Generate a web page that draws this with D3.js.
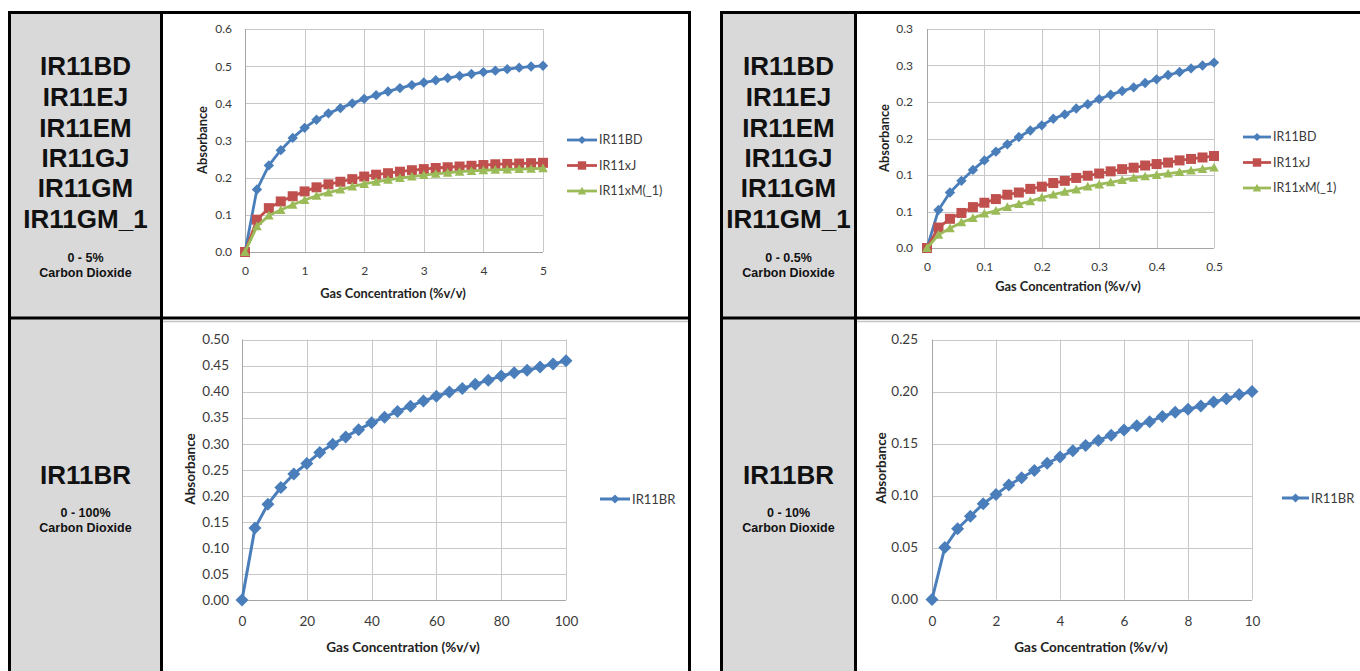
<!DOCTYPE html>
<html><head><meta charset="utf-8">
<script src="https://cdn.jsdelivr.net/npm/d3@7/dist/d3.min.js"></script>
<style>body{margin:0;background:#fff;} svg{display:block;}</style>
</head><body><svg id="c" width="1360" height="671"></svg>
<script>
// ---------- DATA ----------
const conc5  = [0,0.2,0.4,0.6,0.8,1.0,1.2,1.4,1.6,1.8,2.0,2.2,2.4,2.6,2.8,3.0,3.2,3.4,3.6,3.8,4.0,4.2,4.4,4.6,4.8,5.0];
const bd5    = [0,0.168,0.233,0.274,0.307,0.334,0.356,0.373,0.387,0.400,0.412,0.422,0.432,0.441,0.449,0.456,0.462,0.468,0.474,0.479,0.484,0.488,0.492,0.496,0.499,0.501];
const xj5    = [0,0.087,0.118,0.136,0.150,0.163,0.174,0.182,0.189,0.196,0.203,0.208,0.212,0.216,0.220,0.223,0.226,0.228,0.230,0.232,0.234,0.236,0.237,0.238,0.239,0.240];
const xm5    = [0,0.069,0.098,0.113,0.127,0.140,0.151,0.160,0.168,0.176,0.183,0.189,0.194,0.199,0.203,0.207,0.210,0.213,0.216,0.218,0.220,0.221,0.222,0.223,0.224,0.225];

const conc05 = [0,0.02,0.04,0.06,0.08,0.10,0.12,0.14,0.16,0.18,0.20,0.22,0.24,0.26,0.28,0.30,0.32,0.34,0.36,0.38,0.40,0.42,0.44,0.46,0.48,0.50];
const bd05   = [0,0.052,0.076,0.092,0.107,0.120,0.132,0.142,0.152,0.161,0.168,0.177,0.183,0.191,0.197,0.204,0.210,0.215,0.220,0.226,0.231,0.237,0.241,0.246,0.250,0.254];
const xj05   = [0,0.028,0.040,0.048,0.056,0.062,0.067,0.073,0.076,0.081,0.084,0.089,0.092,0.096,0.099,0.102,0.105,0.108,0.110,0.113,0.115,0.117,0.120,0.122,0.124,0.126];
const xm05   = [0,0.018,0.027,0.035,0.041,0.047,0.051,0.056,0.060,0.064,0.069,0.073,0.077,0.080,0.084,0.087,0.090,0.093,0.096,0.098,0.100,0.102,0.104,0.106,0.108,0.110];

const conc100 = [0,4,8,12,16,20,24,28,32,36,40,44,48,52,56,60,64,68,72,76,80,84,88,92,96,100];
const br100   = [0,0.138,0.184,0.216,0.242,0.262,0.283,0.299,0.313,0.327,0.340,0.351,0.362,0.372,0.382,0.391,0.399,0.406,0.414,0.422,0.430,0.436,0.441,0.447,0.453,0.459];

const conc10 = [0,0.4,0.8,1.2,1.6,2.0,2.4,2.8,3.2,3.6,4.0,4.4,4.8,5.2,5.6,6.0,6.4,6.8,7.2,7.6,8.0,8.4,8.8,9.2,9.6,10.0];
const br10   = [0,0.050,0.068,0.080,0.092,0.101,0.110,0.117,0.124,0.131,0.137,0.143,0.148,0.153,0.158,0.163,0.167,0.171,0.176,0.180,0.183,0.186,0.190,0.193,0.197,0.200];

const xTicks5   = [0,1,2,3,4,5];
const yTicks5   = [0,0.1,0.2,0.3,0.4,0.5,0.6];
const yLabels5  = ["0.0","0.1","0.2","0.3","0.4","0.5","0.6"];
const xTicks05  = [0,0.1,0.2,0.3,0.4,0.5];
const xLabels05 = ["0","0.1","0.2","0.3","0.4","0.5"];
const yTicks05  = [0,0.05,0.1,0.15,0.2,0.25,0.3];
const yLabels05 = ["0.0","0.1","0.1","0.2","0.2","0.3","0.3"];
const xTicks100 = [0,20,40,60,80,100];
const yTicks100 = [0,0.05,0.1,0.15,0.2,0.25,0.3,0.35,0.4,0.45,0.5];
const yLabels100= ["0.00","0.05","0.10","0.15","0.20","0.25","0.30","0.35","0.40","0.45","0.50"];
const xTicks10  = [0,2,4,6,8,10];
const yTicks10  = [0,0.05,0.1,0.15,0.2,0.25];
const yLabels10 = ["0.00","0.05","0.10","0.15","0.20","0.25"];

const seriesNames3 = ["IR11BD","IR11xJ","IR11xM(_1)"];
const seriesNameBR = "IR11BR";
const labelsTop = ["IR11BD","IR11EJ","IR11EM","IR11GJ","IR11GM","IR11GM_1"];
const rangeTL = "0 - 5%", rangeTR = "0 - 0.5%", rangeBL = "0 - 100%", rangeBR = "0 - 10%";
const gasName = "Carbon Dioxide";
const xTitle = "Gas Concentration (%v/v)", yTitle = "Absorbance";

// ---------- STYLE ----------
const BLUE = "#4a7ebb", RED = "#c0504d", GREEN = "#9bbb59";
const svg = d3.select("#c");
svg.append("rect").attr("width",1360).attr("height",671).attr("fill","#fff");

// ---------- TABLE ----------
const gray = "#d9d9d9";
svg.append("rect").attr("x",9.5).attr("y",12.5).attr("width",152).attr("height",680).attr("fill",gray);
svg.append("rect").attr("x",721.5).attr("y",12.5).attr("width",134).attr("height",680).attr("fill",gray);
[[163,688],[857,1360]].forEach(([a,b])=>{
  svg.append("line").attr("x1",a).attr("x2",b).attr("y1",321.5).attr("y2",321.5).attr("stroke","#c4c4c4").attr("stroke-width",1.5);
});
const bl = (x1,y1,x2,y2,w=3)=>svg.append("line").attr("x1",x1).attr("y1",y1).attr("x2",x2).attr("y2",y2).attr("stroke","#000").attr("stroke-width",w);
bl(8,12.5,691,12.5); bl(9.5,11,9.5,680); bl(689.5,11,689.5,680); bl(161.5,11,161.5,680); bl(8,318,691,318);
bl(720,12.5,1365,12.5); bl(721.5,11,721.5,680); bl(855.5,11,855.5,680); bl(720,318,1365,318);

function labelCell(cx, lines, lineYs, range, rangeY){
  const g = svg.append("g").attr("font-family","'Liberation Sans', Arial, sans-serif").attr("font-weight","bold").attr("text-anchor","middle").attr("fill","#111");
  lines.forEach((t,i)=>g.append("text").attr("x",cx).attr("y",lineYs[i]+9.3).attr("font-size",26).text(t));
  g.append("text").attr("x",cx).attr("y",rangeY+4.3).attr("font-size",12.5).text(range);
  g.append("text").attr("x",cx).attr("y",rangeY+15+4.3).attr("font-size",12.5).text(gasName);
}
const topYs = [66,97,128,158,188,219];
labelCell(85.5, labelsTop, topYs, rangeTL, 258);
labelCell(788.5, labelsTop, topYs, rangeTR, 258);
labelCell(85.5, ["IR11BR"], [475], rangeBL, 513);
labelCell(788.5, ["IR11BR"], [475], rangeBR, 513);

// ---------- CHARTS ----------
function marker(sel, shape, r, color){
  if(shape==="diamond"){
    sel.append("path").attr("d",`M0,${-r}L${r},0L0,${r}L${-r},0Z`).attr("fill",color);
  } else if(shape==="square"){
    sel.append("rect").attr("x",-r).attr("y",-r).attr("width",2*r).attr("height",2*r).attr("fill",color);
  } else {
    sel.append("path").attr("d",`M0,${-r*1.05}L${r*1.05},${r*0.85}L${-r*1.05},${r*0.85}Z`).attr("fill",color);
  }
}

function chart(c){
  const g = svg.append("g");
  const x = d3.scaleLinear().domain(c.xDomain).range([c.left,c.right]);
  const y = d3.scaleLinear().domain(c.yDomain).range([c.bottom,c.top]);
  const snap = v => Math.round(v)+0.5;
  g.append("g").selectAll("line").data(c.yTicks).join("line")
    .attr("x1",c.left).attr("x2",c.right).attr("y1",d=>snap(y(d))).attr("y2",d=>snap(y(d)))
    .attr("stroke",(d,i)=>i===0?"#a6a6a6":"#c8c8c8").attr("stroke-width",1);
  g.append("g").selectAll("line").data(c.xTicks).join("line")
    .attr("y1",c.top).attr("y2",c.bottom).attr("x1",d=>snap(x(d))).attr("x2",d=>snap(x(d)))
    .attr("stroke",(d,i)=>i===0?"#a6a6a6":"#c8c8c8").attr("stroke-width",1);
  const ya = d3.axisLeft(y).tickValues(c.yTicks).tickSize(0).tickPadding(c.yPad).tickFormat((d,i)=>c.yLabels[i]);
  const yg = g.append("g").attr("transform",`translate(${c.left},0)`).call(ya);
  yg.select(".domain").remove();
  yg.selectAll("text").attr("font-family","Lato, 'Open Sans', sans-serif").attr("font-size",c.tickFs).attr("fill","#3a3a3a");
  const xa = d3.axisBottom(x).tickValues(c.xTicks).tickSize(0).tickFormat((d,i)=>c.xLabels[i]);
  const xg = g.append("g").attr("transform",`translate(0,${c.bottom})`).call(xa);
  xg.select(".domain").remove();
  xg.selectAll("text").attr("font-family","Lato, 'Open Sans', sans-serif").attr("font-size",c.tickFs).attr("fill","#3a3a3a")
    .attr("y",c.xLabelBase - c.bottom).attr("dy",null);
  g.append("text").attr("transform",`translate(${c.yTitleX},${c.yTitleY}) rotate(-90)`).attr("text-anchor","middle").attr("dy","0.35em")
    .attr("font-family","Lato, sans-serif").attr("font-weight","bold").attr("font-size",c.titleFs).attr("fill","#222").text(yTitle);
  g.append("text").attr("x",c.xTitleX).attr("y",c.xTitleY).attr("text-anchor","middle").attr("dy","0.35em")
    .attr("font-family","Lato, sans-serif").attr("font-weight","bold").attr("font-size",c.titleFs).attr("fill","#222").text(xTitle);
  c.series.forEach(s=>{
    const pts = c.xs.map((v,i)=>[v,s.values[i]]);
    g.append("path").datum(pts).attr("fill","none").attr("stroke",s.color).attr("stroke-width",c.lw).attr("stroke-linejoin","round")
      .attr("d",d3.line().x(d=>x(d[0])).y(d=>y(d[1])));
    g.append("g").selectAll("g").data(pts).join("g").attr("transform",d=>`translate(${x(d[0])},${y(d[1])})`)
      .each(function(){ marker(d3.select(this), s.shape, s.r, s.color); });
  });
  c.series.forEach((s,i)=>{
    const ly = c.legY[i];
    g.append("line").attr("x1",c.legX).attr("x2",c.legX+c.legLen).attr("y1",ly).attr("y2",ly).attr("stroke",s.color).attr("stroke-width",c.lw);
    const mg = g.append("g").attr("transform",`translate(${c.legX+c.legLen/2},${ly})`);
    marker(mg, s.shape, s.lr, s.color);
    g.append("text").attr("x",c.legX+c.legLen+2).attr("y",ly).attr("dy","0.35em").attr("font-family","Lato, sans-serif")
      .attr("font-size",c.legFs).attr("fill","#3a3a3a").text(s.name);
  });
}

chart({xDomain:[0,5],yDomain:[0,0.6],left:245,right:543,top:29,bottom:252,
  xTicks:xTicks5,xLabels:xTicks5.map(String),yTicks:yTicks5,yLabels:yLabels5,yPad:13,xLabelBase:275,tickFs:12,
  yTitleX:203,yTitleY:140,xTitleX:393,xTitleY:294,titleFs:12.8,lw:2.8,xs:conc5,
  series:[{name:seriesNames3[0],values:bd5,color:BLUE,shape:"diamond",r:5.2,lr:4},
          {name:seriesNames3[1],values:xj5,color:RED,shape:"square",r:5,lr:4.2},
          {name:seriesNames3[2],values:xm5,color:GREEN,shape:"triangle",r:4.6,lr:4}],
  legX:567,legLen:30,legY:[140,165.5,191],legFs:12.5});

chart({xDomain:[0,0.5],yDomain:[0,0.3],left:927,right:1214,top:29,bottom:248,
  xTicks:xTicks05,xLabels:xLabels05,yTicks:yTicks05,yLabels:yLabels05,yPad:14,xLabelBase:271,tickFs:12,
  yTitleX:885,yTitleY:138,xTitleX:1068,xTitleY:287,titleFs:12.8,lw:2.8,xs:conc05,
  series:[{name:seriesNames3[0],values:bd05,color:BLUE,shape:"diamond",r:5.2,lr:4},
          {name:seriesNames3[1],values:xj05,color:RED,shape:"square",r:5,lr:4.2},
          {name:seriesNames3[2],values:xm05,color:GREEN,shape:"triangle",r:4.6,lr:4}],
  legX:1243,legLen:28,legY:[137,162.5,188],legFs:12.5});

chart({xDomain:[0,100],yDomain:[0,0.5],left:242,right:566,top:339.5,bottom:600,
  xTicks:xTicks100,xLabels:xTicks100.map(String),yTicks:yTicks100,yLabels:yLabels100,yPad:13,xLabelBase:626,tickFs:13.5,
  yTitleX:190,yTitleY:469,xTitleX:403,xTitleY:647,titleFs:13.5,lw:3,xs:conc100,
  series:[{name:seriesNameBR,values:br100,color:BLUE,shape:"diamond",r:6.5,lr:4.5}],
  legX:600,legLen:30,legY:[499],legFs:13});

chart({xDomain:[0,10],yDomain:[0,0.25],left:932,right:1252,top:339.5,bottom:599.5,
  xTicks:xTicks10,xLabels:xTicks10.map(String),yTicks:yTicks10,yLabels:yLabels10,yPad:14,xLabelBase:626,tickFs:13.5,
  yTitleX:881,yTitleY:468,xTitleX:1091,xTitleY:647,titleFs:13.5,lw:3,xs:conc10,
  series:[{name:seriesNameBR,values:br10,color:BLUE,shape:"diamond",r:6.5,lr:4.5}],
  legX:1282,legLen:27,legY:[498],legFs:13});
</script></body></html>
